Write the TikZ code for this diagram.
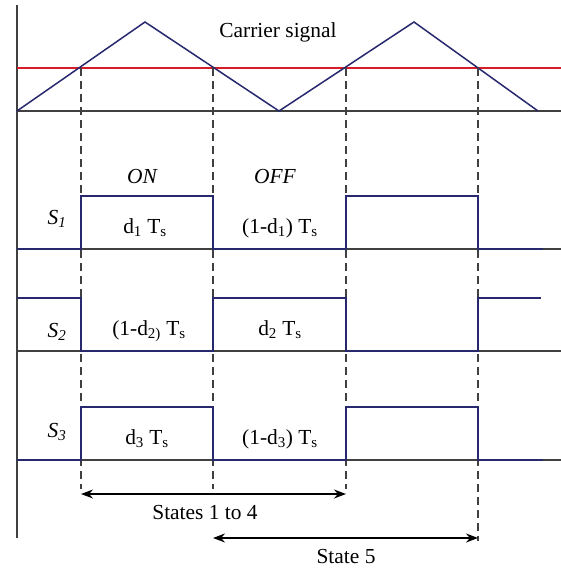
\documentclass[tikz,border=0pt]{standalone}
\usepackage{fontspec}
\setmainfont{Liberation Serif}
\usetikzlibrary{arrows.meta}
\definecolor{sigblue}{RGB}{40,40,110}
\definecolor{refred}{RGB}{215,30,40}
\begin{document}
\begin{tikzpicture}[x=1bp,y=-1bp,
  axisline/.style={draw=black!75, line width=1.4bp},
  sigline/.style={draw=sigblue, line width=1.5bp},
  redline/.style={draw=refred, line width=1.3bp},
  guideline/.style={draw=black!75, line width=1.4bp, dash pattern=on 8bp off 5bp},
  dimarrow/.style={draw=black, line width=1.3bp, {Stealth[length=12bp,width=9bp]}-{Stealth[length=12bp,width=9bp]}},
  lbl/.style={inner sep=0pt, anchor=base, font=\fontsize{21.5}{25}\selectfont}
]
\useasboundingbox (0,0) rectangle (561,569);
% axes
\coordinate (vtop) at (17,5);
\coordinate (vbot) at (17,538);
\draw[axisline] (vtop) -- (vbot);
\coordinate (c0) at (17,111); \coordinate (cR) at (561,111);
\coordinate (a0) at (17,249); \coordinate (aR) at (561,249);
\coordinate (b0) at (17,351); \coordinate (bR) at (561,351);
\coordinate (e0) at (17,460); \coordinate (eR) at (561,460);
\draw[axisline] (c0) -- (cR);
\draw[axisline] (a0) -- (aR);
\draw[axisline] (b0) -- (bR);
\draw[axisline] (e0) -- (eR);
% reference (red) line
\coordinate (r0) at (17,68); \coordinate (rR) at (561,68);
\draw[redline] (r0) -- (rR);
% carrier
\coordinate (p1) at (145,22); \coordinate (v1) at (279,111);
\coordinate (p2) at (414,22); \coordinate (v2) at (538,111);
\draw[sigline] (c0) -- (p1) -- (v1) -- (p2) -- (v2);
% dashed guides
\coordinate (g1t) at (81,68);  \coordinate (g1b) at (81,489);
\coordinate (g2t) at (213,68); \coordinate (g2b) at (213,489);
\coordinate (g3t) at (346,68); \coordinate (g3b) at (346,489);
\coordinate (g4t) at (478,68); \coordinate (g4b) at (478,541);
\draw[guideline] (g1t) -- (g1b);
\draw[guideline] (g2t) -- (g2b);
\draw[guideline] (g3t) -- (g3b);
\draw[guideline] (g4t) -- (g4b);
% S1
\draw[sigline] (17,249) -- (81,249) -- (81,196) -- (213,196) -- (213,249) -- (346,249) -- (346,196) -- (478,196) -- (478,249) -- (543,249);
% S2
\draw[sigline] (17,298) -- (81,298) -- (81,351) -- (213,351) -- (213,298) -- (346,298) -- (346,351) -- (478,351) -- (478,298) -- (541,298);
% S3
\draw[sigline] (17,460) -- (81,460) -- (81,407) -- (213,407) -- (213,460) -- (346,460) -- (346,407) -- (478,407) -- (478,460) -- (543,460);
% labels
\node[lbl] (carrier) at (278,38) {Carrier signal};
\node[lbl] (on) at (142,183) {\itshape ON};
\node[lbl] (off) at (275,183) {\itshape OFF};
\node[lbl] (s1) at (57,224) {\itshape S\textsubscript{1}};
\node[lbl] (s2) at (57,337) {\itshape S\textsubscript{2}};
\node[lbl] (s3) at (57,437) {\itshape S\textsubscript{3}};
\node[lbl] (d1) at (145,233) {d\textsubscript{1} T\textsubscript{s}};
\node[lbl] (nd1) at (280,233) {(1-d\textsubscript{1}) T\textsubscript{s}};
\node[lbl] (nd2) at (149,335) {(1-d\textsubscript{2)} T\textsubscript{s}};
\node[lbl] (d2) at (280,335) {d\textsubscript{2} T\textsubscript{s}};
\node[lbl] (d3) at (147,444) {d\textsubscript{3} T\textsubscript{s}};
\node[lbl] (nd3) at (280,444) {(1-d\textsubscript{3}) T\textsubscript{s}};
% state arrows
\coordinate (s14a) at (81,494); \coordinate (s14b) at (346,494);
\coordinate (s5a) at (213,538); \coordinate (s5b) at (478,538);
\draw[dimarrow] (s14a) -- (s14b);
\draw[dimarrow] (s5a) -- (s5b);
\node[lbl] (st14) at (205,519) {States 1 to 4};
\node[lbl] (st5) at (346,563) {State 5};
\end{tikzpicture}
\end{document}
